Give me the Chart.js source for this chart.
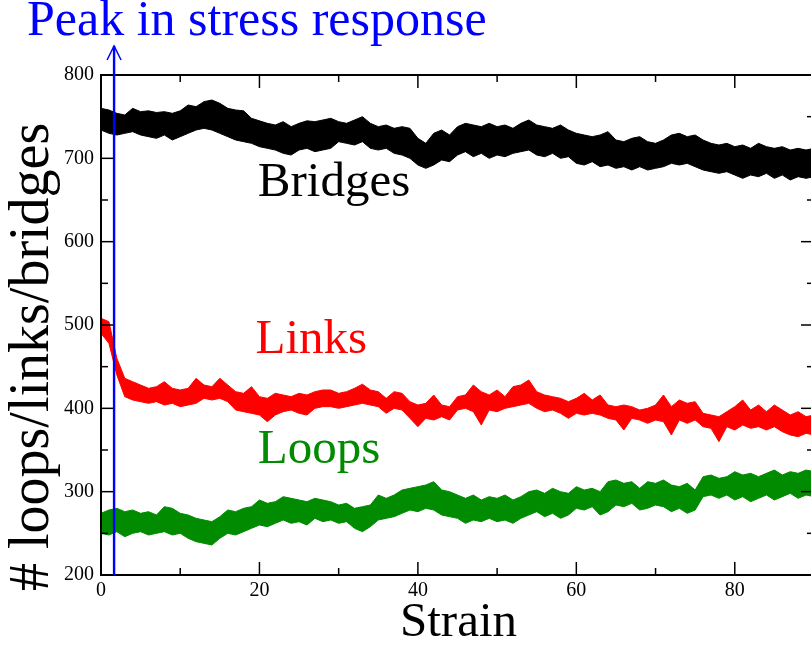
<!DOCTYPE html>
<html>
<head>
<meta charset="utf-8">
<script src="https://cdn.jsdelivr.net/npm/chart.js@4.4.1/dist/chart.umd.min.js"></script>
<style>
html,body{margin:0;padding:0;overflow:hidden;background:#fff;width:811px;height:648px;}
canvas{display:block;}
</style>
</head>
<body>
<canvas id="c" width="815" height="648"></canvas>
<script>
// ---- data ----
const strain = [0,1,2,3,4,5,6,7,8,9,10,11,12,13,14,15,16,17,18,19,20,21,22,23,24,25,26,27,28,29,30,31,32,33,34,35,36,37,38,39,40,41,42,43,44,45,46,47,48,49,50,51,52,53,54,55,56,57,58,59,60,61,62,63,64,65,66,67,68,69,70,71,72,73,74,75,76,77,78,79,80,81,82,83,84,85,86,87,88,89,90];

// Bridges: upper / lower edge of the noisy band
const bridgesHi = [760,758,754,752,760,756,757,755,756,754,757,764,762,768,770,766,760,758,757,748,745,742,740,744,738,742,745,744,746,748,744,742,746,750,742,738,740,736,738,736,724,718,730,734,728,738,742,740,738,742,738,740,736,742,746,740,738,736,740,734,730,728,726,728,732,722,720,724,726,720,718,722,728,730,726,728,722,718,716,718,714,716,712,718,714,712,714,710,712,710,712];
const bridgesLo = [734,730,728,730,732,728,726,724,728,722,726,730,734,736,734,730,726,722,720,718,714,712,710,706,704,710,712,708,710,712,720,718,716,720,712,710,712,706,704,700,692,688,692,698,696,704,708,702,706,700,704,702,706,708,710,704,702,706,700,702,694,692,696,690,692,688,690,686,690,686,688,690,694,692,694,690,686,684,682,684,680,676,680,678,682,676,680,674,678,676,678];

// Links
const linksHi = [508,504,460,436,432,428,424,426,432,424,422,424,436,428,426,436,428,420,418,426,414,412,418,416,414,418,416,420,422,422,418,420,424,429,422,420,412,420,418,408,404,406,416,404,402,414,416,428,420,416,422,414,426,428,434,420,416,414,412,408,412,418,410,416,404,402,404,402,398,400,404,416,402,410,406,408,394,392,390,396,402,410,398,404,396,404,398,392,396,390,392];
const linksLo = [490,478,440,414,410,408,406,408,404,406,402,404,406,412,410,412,408,398,396,394,392,384,392,396,398,394,392,400,402,402,400,402,404,406,404,402,394,400,398,388,378,388,386,390,386,398,400,396,380,398,396,400,402,404,406,400,396,398,394,388,394,392,394,392,388,386,374,388,386,382,386,384,368,386,382,386,378,376,360,378,374,380,376,378,374,378,372,368,366,370,368];

// Loops
const loopsHi = [274,278,280,276,278,274,276,272,282,280,274,272,268,266,264,270,278,276,280,282,290,286,288,294,292,290,288,292,290,288,284,286,280,282,284,296,292,296,302,304,306,308,312,302,300,296,292,296,290,294,292,296,290,294,300,302,298,304,300,298,306,302,304,300,312,314,310,312,304,312,310,314,308,306,310,302,318,320,316,318,324,320,322,318,322,326,320,324,322,326,324];
const loopsLo = [250,248,252,246,250,252,248,250,252,248,250,244,240,238,236,244,250,248,252,256,260,258,262,266,262,264,260,268,264,266,262,264,256,252,258,266,268,270,274,278,276,280,278,272,270,268,262,266,264,268,264,266,262,268,272,276,270,274,268,272,280,278,282,272,276,284,282,286,278,280,284,282,276,280,274,278,294,296,292,296,290,294,288,292,296,290,294,298,292,296,294];

const xTickVals = [0,20,40,60,80];
const xMinorVals = [10,30,50,70,90];
const yTickVals = [200,300,400,500,600,700,800];
const yMinorVals = [250,350,450,550,650,750];
const peakStrain = 1.65;

// ---- build datasets ----
function pts(vals){ return strain.map((s,i)=>({x:s, y:vals[i]})); }
const BLACK='#000000', RED='#ff0000', GREEN='#008b00', BLUE='#0000ff';
function band(hi, lo, col){
  return [
    {data:pts(hi), borderColor:col, backgroundColor:col, borderWidth:1, pointRadius:0, fill:'+1', tension:0},
    {data:pts(lo), borderColor:col, backgroundColor:col, borderWidth:1, pointRadius:0, fill:false, tension:0}
  ];
}

const SERIF = '"Liberation Serif", "DejaVu Serif", serif';

const overlay = {
  id:'overlay',
  afterDatasetsDraw(chart){
    const {ctx, chartArea:a, scales:{x, y}} = chart;
    ctx.save();
    // frame
    ctx.strokeStyle = BLACK; ctx.lineWidth = 2;
    ctx.strokeRect(a.left, a.top, a.right - a.left, a.bottom - a.top);
    // inward ticks
    ctx.lineWidth = 1.5;
    const tick = (x1,y1,x2,y2)=>{ctx.beginPath();ctx.moveTo(x1,y1);ctx.lineTo(x2,y2);ctx.stroke();};
    const MAJ = 13, MIN = 7;
    xTickVals.forEach(v=>{const p=x.getPixelForValue(v); tick(p,a.bottom,p,a.bottom-MAJ); tick(p,a.top,p,a.top+MAJ);});
    xMinorVals.forEach(v=>{const p=x.getPixelForValue(v); tick(p,a.bottom,p,a.bottom-MIN); tick(p,a.top,p,a.top+MIN);});
    yTickVals.forEach(v=>{const p=y.getPixelForValue(v); tick(a.left,p,a.left+MAJ,p); tick(a.right,p,a.right-MAJ,p);});
    yMinorVals.forEach(v=>{const p=y.getPixelForValue(v); tick(a.left,p,a.left+MIN,p); tick(a.right,p,a.right-MIN,p);});
    // peak marker with arrow
    const px = x.getPixelForValue(peakStrain);
    ctx.strokeStyle = BLUE; ctx.lineWidth = 2.4;
    tick(px, a.bottom, px, 46);
    ctx.lineWidth = 1.5;
    ctx.beginPath(); ctx.moveTo(px-7, 60); ctx.lineTo(px, 46); ctx.lineTo(px+7, 60); ctx.stroke();
    // texts
    ctx.textAlign = 'left'; ctx.textBaseline = 'alphabetic';
    ctx.font = '50px ' + SERIF;
    ctx.fillStyle = BLUE; ctx.fillText('Peak in stress response', 27, 35);
    ctx.font = '49px ' + SERIF;
    ctx.fillStyle = BLACK; ctx.fillText('Bridges', x.getPixelForValue(19.8), y.getPixelForValue(655));
    ctx.fillStyle = RED; ctx.fillText('Links', x.getPixelForValue(19.5), y.getPixelForValue(466));
    ctx.fillStyle = GREEN; ctx.fillText('Loops', x.getPixelForValue(19.8), y.getPixelForValue(334));
    ctx.fillStyle = BLACK; ctx.fillText('Strain', 400, 636);
    ctx.save();
    ctx.font = '56px ' + SERIF;
    ctx.translate(48, 591); ctx.rotate(-Math.PI/2);
    ctx.fillText('# loops/links/bridges', 0, 0);
    ctx.restore();
    ctx.restore();
  }
};

new Chart(document.getElementById('c'), {
  type:'line',
  data:{ datasets:[...band(bridgesHi,bridgesLo,BLACK), ...band(linksHi,linksLo,RED), ...band(loopsHi,loopsLo,GREEN)] },
  options:{
    responsive:false, animation:false,
    layout:{padding:{left:0, top:75, right:1, bottom:0}},
    plugins:{legend:{display:false}, tooltip:{enabled:false}},
    scales:{
      x:{type:'linear', min:0, max:90,
         grid:{display:false, drawTicks:false}, border:{display:false},
         afterBuildTicks:s=>{s.ticks = xTickVals.map(v=>({value:v}));},
         afterFit:s=>{s.height = 73;},
         ticks:{color:BLACK, font:{family:SERIF, size:20}, padding:4, maxRotation:0, autoSkip:false}},
      y:{type:'linear', min:200, max:800,
         grid:{display:false, drawTicks:false}, border:{display:false},
         afterBuildTicks:s=>{s.ticks = yTickVals.map(v=>({value:v}));},
         afterFit:s=>{s.width = 101;},
         ticks:{color:BLACK, font:{family:SERIF, size:20}, padding:7, autoSkip:false}}
    }
  },
  plugins:[overlay]
});
</script>
</body>
</html>
